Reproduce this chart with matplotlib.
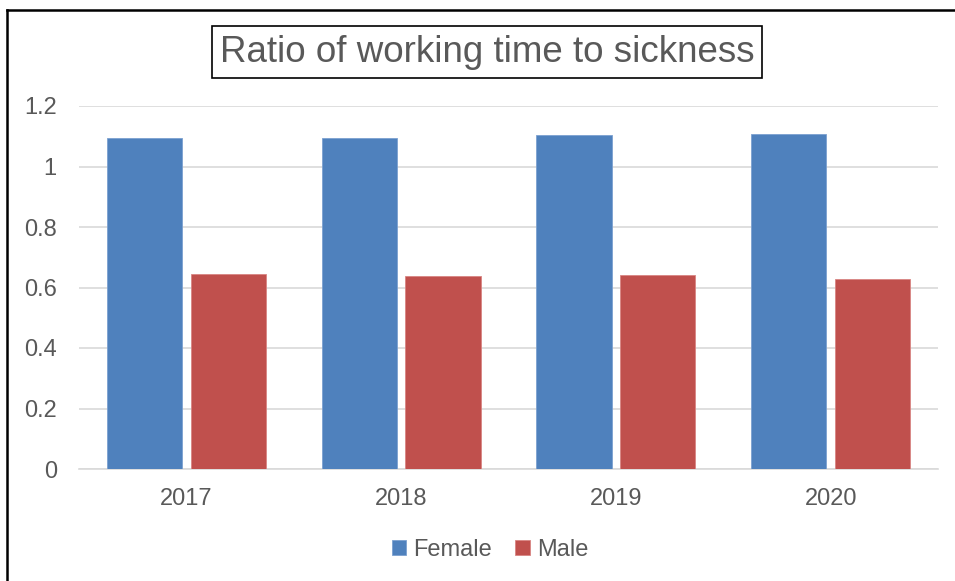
import numpy as np
import matplotlib.pyplot as plt
from matplotlib.lines import Line2D

# Datos
anios = ["2017", "2018", "2019", "2020"]
mujer = [1.095, 1.094, 1.105, 1.107]
hombre = [0.644, 0.638, 0.641, 0.627]
ticks_y = [0, 0.2, 0.4, 0.6, 0.8, 1, 1.2]
etiquetas_y = ["0", "0.2", "0.4", "0.6", "0.8", "1", "1.2"]

plt.rcParams['font.family'] = ['Liberation Sans', 'DejaVu Sans']
gris = '#595959'

fig = plt.figure(figsize=(9.55, 5.81), dpi=100)
ax = fig.add_axes([79 / 955, 1 - 469 / 581, (938 - 79) / 955, (469 - 106) / 581])

x = np.arange(len(anios))
ancho = 0.35
sep = 0.04
ax.bar(x - (ancho + sep) / 2, mujer, ancho, color='#4f81bd', edgecolor='#7ba0d0',
       linewidth=0.6, label='Female', zorder=3)
ax.bar(x + (ancho + sep) / 2, hombre, ancho, color='#c0504d', edgecolor='#d98583',
       linewidth=0.6, label='Male', zorder=3)

ax.set_xlim(-0.5, len(anios) - 0.5)
ax.set_ylim(0, 1.2)
ax.set_yticks(ticks_y)
ax.set_yticklabels(etiquetas_y)
ax.set_xticks(x)
ax.set_xticklabels(anios)
ax.tick_params(axis='both', length=0, labelsize=17, colors=gris)
ax.tick_params(axis='y', pad=16)
ax.tick_params(axis='x', pad=14)

ax.grid(axis='y', color='#d9d9d9', linewidth=1.2, zorder=0)
for lado in ['top', 'right', 'left']:
    ax.spines[lado].set_visible(False)
ax.spines['bottom'].set_color('#d9d9d9')
ax.spines['bottom'].set_linewidth(1.2)

# Titulo con recuadro
fig.text(487 / 955, 1 - 52 / 581, 'Ratio of working time to sickness', ha='center', va='center',
         fontsize=26.5, color=gris,
         bbox=dict(boxstyle='square,pad=0.22', facecolor='white', edgecolor='black', linewidth=1.2))

# Leyenda
fig.legend(loc='center', bbox_to_anchor=(490 / 955, 1 - 550 / 581), ncol=2, frameon=False,
           fontsize=17, labelcolor=gris, handlelength=0.6, handleheight=0.6,
           handletextpad=0.3, columnspacing=1.0)

# Borde exterior (solo arriba e izquierda visibles)
fig.add_artist(Line2D([7 / 955, 1], [1 - 10 / 581, 1 - 10 / 581], color='black', linewidth=1.8,
                      transform=fig.transFigure))
fig.add_artist(Line2D([7 / 955, 7 / 955], [0, 1 - 10 / 581], color='black', linewidth=1.8,
                      transform=fig.transFigure))

fig.savefig('out.png', dpi=100)
